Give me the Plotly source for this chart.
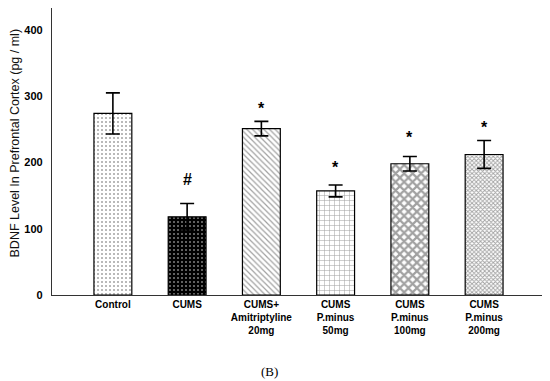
import plotly.graph_objects as go

categories = ["Control", "CUMS", "CUMS+<br>Amitriptyline<br>20mg", "CUMS<br>P.minus<br>50mg",
              "CUMS<br>P.minus<br>100mg", "CUMS<br>P.minus<br>200mg"]
means = [274, 118, 251, 157, 198, 212]
sems = [31, 20, 11, 9, 11, 21]
marks = ["", "#", "*", "*", "*", "*"]
mark_y = [None, 175, 282, 193, 237, 252]
y_ticks = [0, 100, 200, 300, 400]

bar_colors = ["white", "black", "white", "white", "white", "white"]
pat_shapes = [".", ".", "\\", "+", "x", "x"]
pat_fg = ["#333333", "white", "black", "black", "black", "black"]
pat_size = [4, 4, 4, 5, 6, 3]
pat_sol = [0.2, 0.2, 0.3, 0.2, 0.6, 0.5]

fig = go.Figure()
fig.add_trace(go.Bar(
    x=list(range(len(categories))), y=means,
    width=0.51,
    marker=dict(color=bar_colors, line=dict(color="black", width=1.2),
                pattern=dict(shape=pat_shapes, fgcolor=pat_fg, size=pat_size,
                             solidity=pat_sol, fillmode="overlay")),
    error_y=dict(type="data", array=sems, color="black", thickness=1.6, width=7),
    showlegend=False,
))

for i, (m, yy) in enumerate(zip(marks, mark_y)):
    if m:
        fig.add_annotation(x=i, y=yy, text="<b>%s</b>" % m, showarrow=False,
                           font=dict(family="Arial, Liberation Sans", size=16, color="black"))

fig.add_annotation(xref="paper", yref="paper", x=-0.075, y=0.528, xanchor="center", yanchor="middle",
                   text="BDNF Level In Prefrontal Cortex (pg / ml)",
                   textangle=-90, showarrow=False,
                   font=dict(family="Arial, Liberation Sans", size=12.5, color="#111111"))
fig.add_annotation(xref="paper", yref="paper", x=0.442, y=-0.268, xanchor="center", yanchor="middle",
                   text="(B)", showarrow=False,
                   font=dict(family="Times New Roman, Liberation Serif", size=13, color="black"))

fig.update_layout(
    width=542, height=373,
    margin=dict(l=44, r=5, t=0, b=86),
    paper_bgcolor="white", plot_bgcolor="white",
    xaxis=dict(range=[-0.82, 5.82], tickmode="array", tickvals=list(range(len(categories))),
               ticktext=["<b>" + c.replace("<br>", "</b><br><b>") + "</b>" for c in categories],
               showline=True, linecolor="#333333", linewidth=1.2, ticks="", showgrid=False,
               zeroline=False, tickfont=dict(family="Liberation Sans Narrow, Arial Narrow, Arial", size=10, color="black")),
    yaxis=dict(range=[0, 433], tickmode="array", tickvals=y_ticks,
               ticktext=["<b>%d</b>" % v for v in y_ticks],
               showline=True, linecolor="#333333", linewidth=1.2, ticks="", showgrid=False,
               zeroline=False, ticklabelstandoff=6,
               tickfont=dict(family="Arial, Liberation Sans", size=11, color="black")),
)

fig.write_html("out.html")
